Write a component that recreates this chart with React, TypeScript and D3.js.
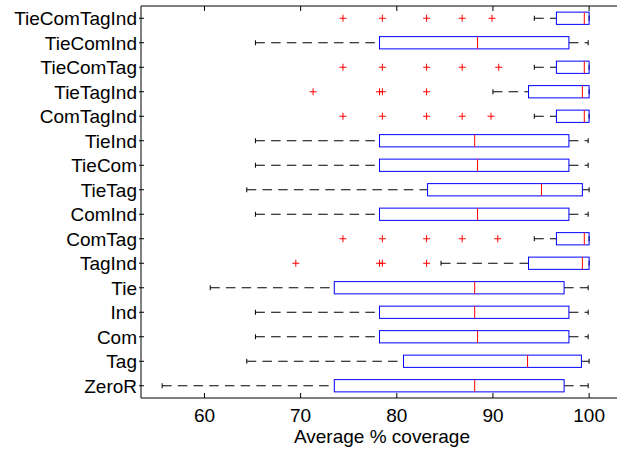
import React from "react"
import * as d3 from "d3"

// rows, top to bottom
const categories = [
  "TieComTagInd", "TieComInd", "TieComTag", "TieTagInd", "ComTagInd", "TieInd",
  "TieCom", "TieTag", "ComInd", "ComTag", "TagInd", "Tie", "Ind", "Com", "Tag", "ZeroR",
]
const lowerWhisker = [94.3, 65.3, 94.3, 90.0, 94.3, 65.3, 65.3, 64.4, 65.3, 94.3, 84.6, 60.6, 65.3, 65.3, 64.4, 55.6]
const q1 = [96.6, 78.2, 96.6, 93.7, 96.6, 78.2, 78.2, 83.2, 78.2, 96.6, 93.7, 73.5, 78.2, 78.2, 80.7, 73.5]
const median = [99.5, 88.4, 99.5, 99.3, 99.5, 88.1, 88.4, 95.05, 88.4, 99.5, 99.3, 88.1, 88.1, 88.4, 93.6, 88.1]
const q3 = [100, 97.9, 100, 100, 100, 97.9, 97.9, 99.3, 97.9, 100, 100, 97.4, 97.9, 97.9, 99.2, 97.4]
const upperWhisker = [100, 99.9, 100, 100, 100, 99.9, 99.9, 100, 99.9, 100, 100, 99.9, 99.9, 99.9, 100, 99.9]
const outliers: number[][] = [
  [74.4, 78.5, 83.1, 86.8, 89.9],
  [],
  [74.4, 78.5, 83.1, 86.8, 90.6],
  [71.3, 78.2, 78.5, 83.1],
  [74.4, 78.5, 83.1, 86.8, 89.8],
  [], [], [], [],
  [74.4, 78.5, 83.1, 86.8, 90.5],
  [69.5, 78.2, 78.5, 83.1],
  [], [], [], [], [],
]
const xTicks = [60, 70, 80, 90, 100]

export default function App() {
  const ref = React.useRef<SVGSVGElement>(null)

  React.useEffect(() => {
    const width = 617
    const height = 449
    const margin = { top: 6, right: 0, bottom: 50, left: 141 }
    const font = "'Liberation Sans', Arial, Helvetica, sans-serif"

    const x = d3.scaleLinear()
      .domain([53.4, 102.9])
      .range([margin.left, width - margin.right])

    const y = d3.scaleBand()
      .domain(categories)
      .range([margin.top, height - margin.bottom - 1])

    const bh = y.bandwidth() / 2
    const cy = (c: string) => (y(c) as number) + y.bandwidth() / 2
    const yBottom = height - margin.bottom - 1

    const svg = d3.select(ref.current)
    svg.selectAll("*").remove()
    svg.attr("width", width).attr("height", height)
      .style("font-family", font)

    const rows = categories.map((c, i) => ({
      c, lw: lowerWhisker[i], q1: q1[i], med: median[i], q3: q3[i], uw: upperWhisker[i], out: outliers[i],
    }))

    const g = svg.append("g")

    // whiskers (dashed)
    g.selectAll("path.wl")
      .data(rows)
      .enter()
      .append("path")
      .attr("d", (d) => `M${x(d.lw)},${cy(d.c)}H${x(d.q1)}`)
      .attr("stroke", "#000")
      .attr("stroke-dasharray", "9.5,6.2")
      .attr("fill", "none")

    g.selectAll("path.wr")
      .data(rows.filter((d) => d.uw > d.q3))
      .enter()
      .append("path")
      .attr("d", (d) => `M${x(d.q3)},${cy(d.c)}H${x(d.uw)}`)
      .attr("stroke", "#000")
      .attr("stroke-dasharray", "9.5,6.2")
      .attr("fill", "none")

    // whisker caps
    rows.forEach((d) => {
      ;[d.lw, d.uw].forEach((v) => {
        g.append("line")
          .attr("x1", x(v)).attr("x2", x(v))
          .attr("y1", cy(d.c) - 2.5).attr("y2", cy(d.c) + 2.5)
          .attr("stroke", "#000")
      })
    })

    // boxes
    g.selectAll("rect.box")
      .data(rows)
      .enter()
      .append("rect")
      .attr("x", (d) => x(d.q1))
      .attr("y", (d) => cy(d.c) - bh / 2)
      .attr("width", (d) => x(d.q3) - x(d.q1))
      .attr("height", bh)
      .attr("fill", "none")
      .attr("stroke", "#0000ff")

    // medians
    g.selectAll("line.med")
      .data(rows)
      .enter()
      .append("line")
      .attr("x1", (d) => x(d.med)).attr("x2", (d) => x(d.med))
      .attr("y1", (d) => cy(d.c) - bh / 2).attr("y2", (d) => cy(d.c) + bh / 2)
      .attr("stroke", "#ff0000")

    // outliers as red +
    const pts = rows.flatMap((d) => d.out.map((v) => ({ c: d.c, v })))
    g.selectAll("path.out")
      .data(pts)
      .enter()
      .append("path")
      .attr("d", (d) => {
        const px = x(d.v), py = cy(d.c)
        return `M${px - 3.5},${py}H${px + 3.5}M${px},${py - 3.5}V${py + 3.5}`
      })
      .attr("stroke", "#ff0000")
      .attr("fill", "none")

    // axes frame: left, top, bottom
    const ax = svg.append("g").attr("stroke", "#000").attr("fill", "none")
    ax.append("path").attr("d", `M${width},${margin.top}H${margin.left}V${yBottom}H${width}`)

    // x ticks (inward, top and bottom)
    xTicks.forEach((t) => {
      ax.append("line").attr("x1", x(t)).attr("x2", x(t)).attr("y1", yBottom).attr("y2", yBottom - 5)
      ax.append("line").attr("x1", x(t)).attr("x2", x(t)).attr("y1", margin.top).attr("y2", margin.top + 5)
    })
    // y ticks
    categories.forEach((c) => {
      ax.append("line").attr("x1", margin.left - 2).attr("x2", margin.left + 3).attr("y1", cy(c)).attr("y2", cy(c))
    })

    svg.append("g")
      .selectAll("text")
      .data(xTicks)
      .enter()
      .append("text")
      .attr("x", (d) => x(d))
      .attr("y", 422)
      .attr("text-anchor", "middle")
      .attr("font-size", 19)
      .text((d) => d)

    svg.append("g")
      .selectAll("text")
      .data(categories)
      .enter()
      .append("text")
      .attr("x", 137)
      .attr("y", (d) => cy(d) + 7)
      .attr("text-anchor", "end")
      .attr("font-size", 19)
      .text((d) => d)

    svg.append("text")
      .attr("x", 382)
      .attr("y", 443)
      .attr("text-anchor", "middle")
      .attr("font-size", 19)
      .text("Average % coverage")
  }, [])

  return (
    <div style={{ position: "absolute", left: 0, top: 0 }}>
      <svg ref={ref} style={{ display: "block" }} />
    </div>
  )
}
